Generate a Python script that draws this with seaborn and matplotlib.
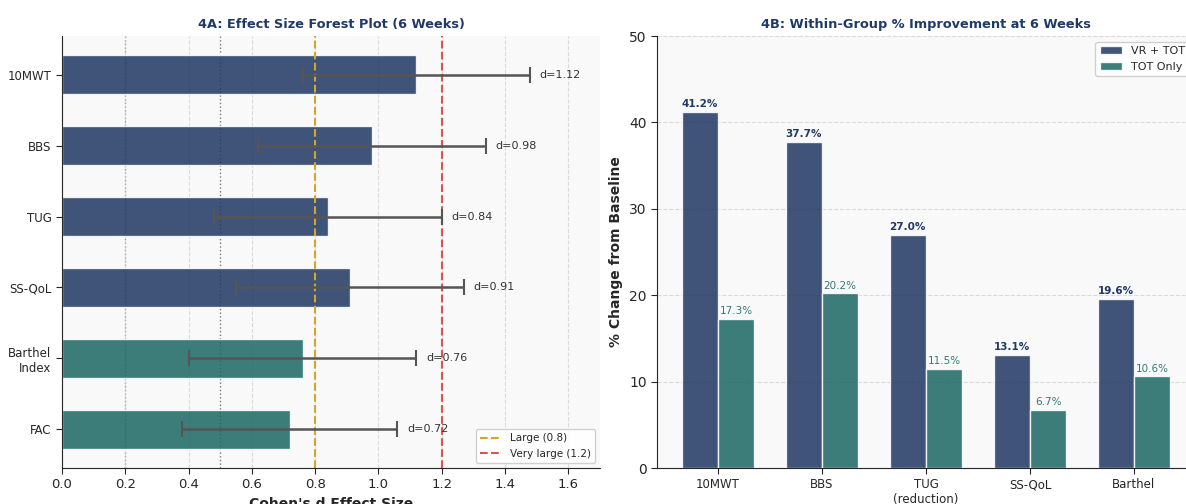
import pandas as pd
import numpy as np
import matplotlib
matplotlib.use('Agg')
import matplotlib.pyplot as plt
import seaborn as sns

# Data
outcomes = ['10MWT', 'BBS', 'TUG', 'SS-QoL', 'Barthel\nIndex', 'FAC']
cohens_d = [1.12, 0.98, 0.84, 0.91, 0.76, 0.72]
ci_low = [0.76, 0.62, 0.48, 0.55, 0.40, 0.38]
ci_high = [1.48, 1.34, 1.20, 1.27, 1.12, 1.06]
outcome_group = ['primary', 'primary', 'primary', 'primary', 'secondary', 'secondary']

pct_measures = ['10MWT', 'BBS', 'TUG\n(reduction)', 'SS-QoL', 'Barthel']
vr_tot = [41.2, 37.7, 27.0, 13.1, 19.6]
tot_only = [17.3, 20.2, 11.5, 6.7, 10.6]

navy = '#1e3761'
teal = '#1b6763'
title_color = '#1f3a68'

sns.set_style('white')
plt.rcParams['font.family'] = ['DejaVu Sans']

fig = plt.figure(figsize=(11.86, 5.04), dpi=100)
W, H = 1186, 504
ax1 = fig.add_axes([62 / W, (H - 468) / H, (600 - 62) / W, (468 - 36) / H])
ax2 = fig.add_axes([657 / W, (H - 468) / H, (1195 - 657) / W, (468 - 36) / H])

# ---- 4A: forest plot ----
df_d = pd.DataFrame({'outcome': outcomes, 'd': cohens_d, 'group': outcome_group})
ax1.set_facecolor('#f9f9f9')
sns.barplot(data=df_d, x='d', y='outcome', hue='group', orient='h',
            palette={'primary': navy, 'secondary': teal}, dodge=False,
            width=0.55, alpha=0.85, saturation=1, edgecolor='white', linewidth=1,
            legend=False, ax=ax1)
ypos = np.arange(len(outcomes))
d_arr = np.array(cohens_d)
xerr = [d_arr - np.array(ci_low), np.array(ci_high) - d_arr]
ax1.errorbar(cohens_d, ypos, xerr=xerr, fmt='none', ecolor='#555555',
             elinewidth=1.8, capsize=6, capthick=1.5, zorder=3)
for y, hi, d in zip(ypos, ci_high, cohens_d):
    ax1.text(hi + 0.03, y, f'd={d:.2f}', va='center', ha='left', fontsize=8, color='#333333')

ax1.axvline(0.2, color='#999999', linestyle=':', linewidth=1, zorder=0)
ax1.axvline(0.5, color='#777777', linestyle=':', linewidth=1, zorder=0)
ax1.axvline(0.8, color='#d4a52a', linestyle='--', linewidth=1.5, label='Large (0.8)', zorder=2)
ax1.axvline(1.2, color='#d9534f', linestyle='--', linewidth=1.5, label='Very large (1.2)', zorder=2)
ax1.set_xlim(0, 1.7)
ax1.set_ylim(5.55, -0.55)
ax1.set_xticks(np.arange(0, 1.61, 0.2))
ax1.xaxis.grid(True, linestyle='--', color='#cccccc', alpha=0.7, linewidth=0.8)
ax1.set_axisbelow(True)
ax1.set_xlabel("Cohen's d Effect Size", fontsize=10, fontweight='bold')
ax1.set_ylabel('')
ax1.set_title('4A: Effect Size Forest Plot (6 Weeks)', fontsize=9.3, fontweight='bold', color=title_color)
ax1.legend(loc='lower right', fontsize=7.5, framealpha=0.9)
ax1.tick_params(axis='x', labelsize=9.5, length=4, bottom=True)
ax1.tick_params(axis='y', labelsize=8.5, length=4, left=True)
sns.despine(ax=ax1)

# ---- 4B: within-group improvement ----
df_p = pd.DataFrame({
    'measure': pct_measures * 2,
    'pct': vr_tot + tot_only,
    'group': ['VR + TOT'] * len(pct_measures) + ['TOT Only'] * len(pct_measures),
})
ax2.set_facecolor('#f9f9f9')
sns.barplot(data=df_p, x='measure', y='pct', hue='group',
            palette={'VR + TOT': navy, 'TOT Only': teal}, width=0.7,
            alpha=0.85, saturation=1, edgecolor='white', linewidth=1, ax=ax2)
for container, col, wt in zip(ax2.containers, [title_color, '#2f7c78'], ['bold', 'normal']):
    ax2.bar_label(container, labels=[f'{v:.1f}%' for v in container.datavalues],
                  padding=2, fontsize=7.5, color=col, fontweight=wt)
ax2.set_xlim(-0.587, 4.587)
ax2.set_ylim(0, 50)
ax2.yaxis.grid(True, linestyle='--', color='#cccccc', alpha=0.7, linewidth=0.8)
ax2.set_axisbelow(True)
ax2.set_xlabel('')
ax2.set_ylabel('% Change from Baseline', fontsize=10, fontweight='bold')
ax2.set_title('4B: Within-Group % Improvement at 6 Weeks', fontsize=9.3, fontweight='bold', color=title_color)
ax2.legend(loc='upper right', fontsize=8, framealpha=0.9)
ax2.tick_params(axis='x', labelsize=8.5, length=4, bottom=True)
ax2.tick_params(axis='y', labelsize=10, length=4, left=True)
sns.despine(ax=ax2)

fig.savefig('out.png', dpi=100)
